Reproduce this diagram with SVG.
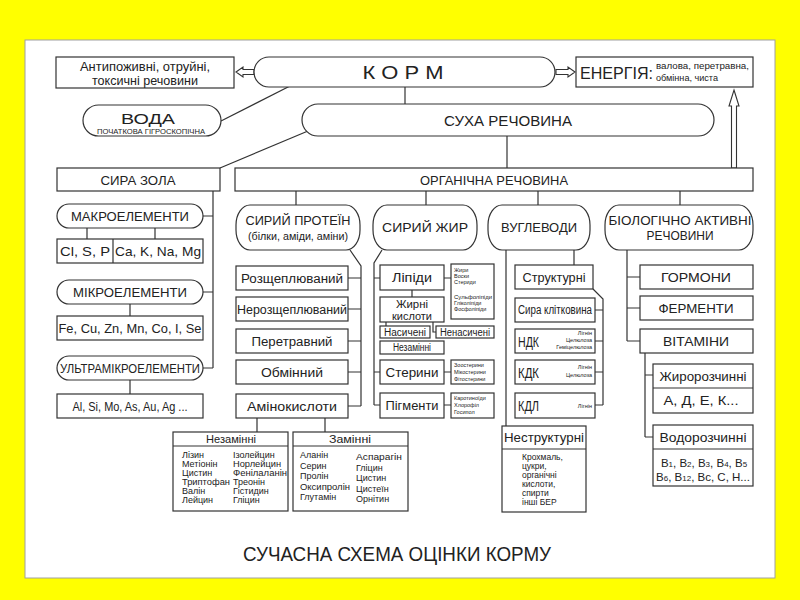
<svg xmlns="http://www.w3.org/2000/svg" width="800" height="600" viewBox="0 0 800 600">
<defs>
<style>
.bx{fill:#fff;stroke:#333;stroke-width:1.2}
.ln{fill:none;stroke:#333;stroke-width:1.2}
.ar{fill:#fff;stroke:#333;stroke-width:1.1}
text{font-family:"Liberation Sans Narrow","Liberation Sans",Arial,sans-serif;fill:#222;font-size:13px}
.c{text-anchor:middle}
.r{text-anchor:end}
.s5{font-size:5.5px}
.s9{font-size:9px}
.s10{font-size:10px}
.sub{font-size:8px}
</style>
</defs>
<rect x="0" y="0" width="800" height="600" fill="#ffff00"/>
<rect x="25" y="40" width="750" height="538" fill="#fff" stroke="#a0a0a0" stroke-width="1"/>

<g id="connectors">
<polygon class="ar" points="236,72 243,67 243,69.5 254,69.5 254,74.5 243,74.5 243,77"/>
<polygon class="ar" points="575,72 568,67 568,69.5 556,69.5 556,74.5 568,74.5 568,77"/>
<polygon class="ar" points="734,90 739,106 736.5,106 736.5,168 731.5,168 731.5,106 729,106"/>
<line class="ln" x1="221" y1="121" x2="290" y2="86"/>
<line class="ln" x1="405" y1="87" x2="405" y2="104"/>
<line class="ln" x1="308" y1="131" x2="220" y2="168"/>
<line class="ln" x1="507" y1="136" x2="507" y2="168"/>
<path class="ln" d="M213,191V368M203,216H213M203,292H213M203,368H213"/>
<path class="ln" d="M87,228V239M155,228V239M130,304V316M130,380V394"/>
<path class="ln" d="M296,191V205M426,191V205M538,191V205M680,191V205"/>
<path class="ln" d="M350,250L361,266V406M348,278H361M348,309H361M348,341H361M348,372H361M348,406H361"/>
<path class="ln" d="M257,418V432M325,418V432"/>
<path class="ln" d="M382,250L374,263V405M374,278H380M374,372H380M374,405H380"/>
<path class="ln" d="M444,278H451M444,372H451M444,405H451M412,290V297M386,322V326M433,322V332H436"/>
<path class="ln" d="M506,250V426M574,250V265"/>
<path class="ln" d="M593,289L603,299V405M595,310H603M595,341H603M595,372H603M595,405H603"/>
<path class="ln" d="M627,250V341M627,277H640M627,308H640M627,341H640"/>
<path class="ln" d="M645,353V437M645,375H653M645,437H653"/>
</g>

<g id="antinutrients">
<rect class="bx" x="56" y="57" width="178" height="31"/>
<text class="c" x="145" y="71" style="font-size:12px" textLength="130" lengthAdjust="spacingAndGlyphs">Антипоживні, отруйні,</text>
<text class="c" x="145" y="84.5" style="font-size:12px" textLength="106" lengthAdjust="spacingAndGlyphs">токсичні речовини</text>
</g>
<g id="korm">
<rect class="bx" x="254" y="57" width="301" height="30" rx="15"/>
<text class="c" x="403" y="79" style="font-size:19px" textLength="81" lengthAdjust="spacingAndGlyphs">К О Р М</text>
</g>
<g id="energy">
<rect class="bx" x="576" y="57" width="177" height="30"/>
<text x="580" y="79" style="font-size:16px" textLength="73" lengthAdjust="spacingAndGlyphs">ЕНЕРГІЯ:</text>
<text x="656" y="69" style="font-size:8.5px" textLength="93" lengthAdjust="spacingAndGlyphs">валова, перетравна,</text>
<text x="656" y="81" style="font-size:8.5px" textLength="62" lengthAdjust="spacingAndGlyphs">обмінна, чиста</text>
</g>
<g id="water">
<rect class="bx" x="83" y="105" width="138" height="31" rx="15.5"/>
<text class="c" x="148" y="124" style="font-size:15px" textLength="54" lengthAdjust="spacingAndGlyphs">ВОДА</text>
<text class="c" x="151" y="133.5" style="font-size:6.5px" textLength="108" lengthAdjust="spacingAndGlyphs">ПОЧАТКОВА  ГІГРОСКОПІЧНА</text>
</g>
<g id="dry-matter">
<rect class="bx" x="302" y="104" width="412" height="32" rx="16"/>
<text class="c" x="508" y="126" style="font-size:15px" textLength="128" lengthAdjust="spacingAndGlyphs">СУХА  РЕЧОВИНА</text>
</g>
<g id="ash">
<rect class="bx" x="57" y="168" width="163" height="23"/>
<text class="c" x="138" y="184.5" textLength="75" lengthAdjust="spacingAndGlyphs">СИРА ЗОЛА</text>
</g>
<g id="organic">
<rect class="bx" x="235" y="168" width="518" height="23"/>
<text class="c" x="494" y="184.5" textLength="148" lengthAdjust="spacingAndGlyphs">ОРГАНІЧНА РЕЧОВИНА</text>
</g>

<g id="macro">
<rect class="bx" x="57" y="204" width="146" height="24" rx="12"/>
<text class="c" x="130" y="220.5" textLength="118" lengthAdjust="spacingAndGlyphs">МАКРОЕЛЕМЕНТИ</text>
</g>
<g id="macro-list">
<rect class="bx" x="57" y="239" width="146" height="24"/>
<line class="ln" x1="113" y1="239" x2="113" y2="263"/>
<text class="c" x="85" y="255.5" textLength="50" lengthAdjust="spacingAndGlyphs">Cl, S, P</text>
<text class="c" x="158" y="255.5" textLength="86" lengthAdjust="spacingAndGlyphs">Ca, K, Na, Mg</text>
</g>
<g id="micro">
<rect class="bx" x="57" y="280" width="146" height="24" rx="12"/>
<text class="c" x="130" y="296.5" textLength="114" lengthAdjust="spacingAndGlyphs">МІКРОЕЛЕМЕНТИ</text>
</g>
<g id="micro-list">
<rect class="bx" x="57" y="316" width="146" height="24"/>
<text class="c" x="130" y="332.5" textLength="143" lengthAdjust="spacingAndGlyphs">Fe, Cu, Zn, Mn, Co, I, Se</text>
</g>
<g id="ultra">
<rect class="bx" x="57" y="356" width="146" height="24" rx="12"/>
<text class="c" x="130" y="372.5" style="font-size:12px" textLength="140" lengthAdjust="spacingAndGlyphs">УЛЬТРАМІКРОЕЛЕМЕНТИ</text>
</g>
<g id="ultra-list">
<rect class="bx" x="57" y="394" width="146" height="24"/>
<text class="c" x="130" y="410.5" textLength="115" lengthAdjust="spacingAndGlyphs">Al, Si, Mo, As, Au, Ag ...</text>
</g>

<g id="protein">
<rect class="bx" x="236" y="205" width="124" height="45" rx="14" ry="20"/>
<text class="c" x="298" y="225" textLength="105" lengthAdjust="spacingAndGlyphs">СИРИЙ ПРОТЕЇН</text>
<text class="c" x="298" y="240" style="font-size:10.5px" textLength="100" lengthAdjust="spacingAndGlyphs">(білки, аміди, аміни)</text>
</g>
<g id="p1"><rect class="bx" x="236" y="266" width="112" height="24"/><text class="c" x="292" y="282.5" style="font-size:12.5px" textLength="102" lengthAdjust="spacingAndGlyphs">Розщеплюваний</text></g>
<g id="p2"><rect class="bx" x="236" y="297" width="112" height="24"/><text class="c" x="292" y="313.5" style="font-size:12.5px" textLength="110" lengthAdjust="spacingAndGlyphs">Нерозщеплюваний</text></g>
<g id="p3"><rect class="bx" x="236" y="329" width="112" height="24"/><text class="c" x="292" y="345.5" style="font-size:12.5px" textLength="81" lengthAdjust="spacingAndGlyphs">Перетравний</text></g>
<g id="p4"><rect class="bx" x="236" y="360" width="112" height="24"/><text class="c" x="292" y="376.5" style="font-size:12.5px" textLength="62" lengthAdjust="spacingAndGlyphs">Обмінний</text></g>
<g id="p5"><rect class="bx" x="236" y="394" width="112" height="24"/><text class="c" x="292" y="410.5" style="font-size:12.5px" textLength="90" lengthAdjust="spacingAndGlyphs">Амінокислоти</text></g>

<g id="essential">
<rect class="bx" x="173" y="432" width="115" height="79"/>
<line class="ln" x1="173" y1="446" x2="288" y2="446"/>
<text class="c" x="231" y="443" style="font-size:11px" textLength="50" lengthAdjust="spacingAndGlyphs">Незамінні</text>
<text class="s9" x="182" y="458">Лізин</text>
<text class="s9" x="182" y="467">Метіонін</text>
<text class="s9" x="182" y="476">Цистин</text>
<text class="s9" x="182" y="485" textLength="48" lengthAdjust="spacingAndGlyphs">Триптофан</text>
<text class="s9" x="182" y="494">Валін</text>
<text class="s9" x="182" y="503">Лейцин</text>
<text class="s9" x="233" y="458">Ізолейцин</text>
<text class="s9" x="233" y="467" textLength="48" lengthAdjust="spacingAndGlyphs">Норлейцин</text>
<text class="s9" x="233" y="476" textLength="54" lengthAdjust="spacingAndGlyphs">Фенілаланін</text>
<text class="s9" x="233" y="485">Треонін</text>
<text class="s9" x="233" y="494">Гістидин</text>
<text class="s9" x="233" y="503">Гліцин</text>
</g>
<g id="nonessential">
<rect class="bx" x="293" y="432" width="115" height="79"/>
<line class="ln" x1="293" y1="446" x2="408" y2="446"/>
<text class="c" x="350" y="443" style="font-size:11px" textLength="42" lengthAdjust="spacingAndGlyphs">Замінні</text>
<text class="s9" x="300" y="458">Аланін</text>
<text class="s9" x="300" y="468.5">Серин</text>
<text class="s9" x="300" y="479">Пролін</text>
<text class="s9" x="300" y="489.5" textLength="50" lengthAdjust="spacingAndGlyphs">Оксипролін</text>
<text class="s9" x="300" y="500">Глутамін</text>
<text class="s9" x="356" y="460" textLength="46" lengthAdjust="spacingAndGlyphs">Аспарагін</text>
<text class="s9" x="356" y="470.5">Гліцин</text>
<text class="s9" x="356" y="481">Цистин</text>
<text class="s9" x="356" y="491.5">Цистеїн</text>
<text class="s9" x="356" y="502">Орнітин</text>
</g>

<g id="fat">
<rect class="bx" x="373" y="205" width="104" height="45" rx="14" ry="20"/>
<text class="c" x="425" y="232" textLength="86" lengthAdjust="spacingAndGlyphs">СИРИЙ ЖИР</text>
</g>
<g id="lipids"><rect class="bx" x="380" y="265" width="64" height="25"/><text class="c" x="412" y="282" textLength="40" lengthAdjust="spacingAndGlyphs">Ліпіди</text></g>
<g id="lipids-list">
<rect class="bx" x="451" y="264" width="43" height="55"/>
<text class="s5" x="454" y="272">Жири</text>
<text class="s5" x="454" y="278">Воски</text>
<text class="s5" x="454" y="284">Стериди</text>
<text class="s5" x="454" y="299" textLength="38" lengthAdjust="spacingAndGlyphs">Сульфоліпіди</text>
<text class="s5" x="454" y="305">Гліколіпіди</text>
<text class="s5" x="454" y="311">Фосфоліпіди</text>
</g>
<g id="fatty-acids"><rect class="bx" x="380" y="297" width="64" height="25"/>
<text class="c" x="412" y="307.5" style="font-size:11px" textLength="32" lengthAdjust="spacingAndGlyphs">Жирні</text>
<text class="c" x="412" y="319.5" style="font-size:11px" textLength="40" lengthAdjust="spacingAndGlyphs">кислоти</text></g>
<g id="saturated"><rect class="bx" x="380" y="326" width="50" height="12"/><text class="c s10" x="405" y="335.5" textLength="42" lengthAdjust="spacingAndGlyphs">Насичені</text></g>
<g id="unsaturated"><rect class="bx" x="436" y="326" width="58" height="12"/><text class="c s10" x="465" y="335.5" textLength="50" lengthAdjust="spacingAndGlyphs">Ненасичені</text></g>
<g id="fat-essential"><rect class="bx" x="380" y="341" width="64" height="13"/><text class="c s10" x="412" y="351" textLength="38" lengthAdjust="spacingAndGlyphs">Незамінні</text></g>
<g id="sterols"><rect class="bx" x="380" y="360" width="64" height="24"/><text class="c" x="412" y="377" textLength="53" lengthAdjust="spacingAndGlyphs">Стерини</text></g>
<g id="sterols-list"><rect class="bx" x="451" y="360" width="43" height="24"/>
<text class="s5" x="454" y="367">Зоостерини</text>
<text class="s5" x="454" y="374">Мікостерини</text>
<text class="s5" x="454" y="381">Фітостерини</text></g>
<g id="pigments"><rect class="bx" x="380" y="393" width="64" height="25"/><text class="c" x="412" y="410" textLength="53" lengthAdjust="spacingAndGlyphs">Пігменти</text></g>
<g id="pigments-list"><rect class="bx" x="451" y="393" width="43" height="25"/>
<text class="s5" x="454" y="400">Каротиноїди</text>
<text class="s5" x="454" y="407">Хлорофіл</text>
<text class="s5" x="454" y="414">Госипол</text></g>

<g id="carbs">
<rect class="bx" x="488" y="205" width="102" height="45" rx="14" ry="20"/>
<text class="c" x="539" y="232" textLength="76" lengthAdjust="spacingAndGlyphs">ВУГЛЕВОДИ</text>
</g>
<g id="structural"><rect class="bx" x="515" y="265" width="78" height="24"/><text class="c" x="554" y="281.5" textLength="63" lengthAdjust="spacingAndGlyphs">Структурні</text></g>
<g id="fibre"><rect class="bx" x="515" y="298" width="80" height="24"/><text class="c" x="555" y="314" style="font-size:12px" textLength="74" lengthAdjust="spacingAndGlyphs">Сира клітковина</text></g>
<g id="ndf"><rect class="bx" x="515" y="329" width="80" height="24"/>
<text x="518" y="346.5" style="font-size:14px" textLength="21" lengthAdjust="spacingAndGlyphs">НДК</text>
<text class="s5 r" x="592" y="335">Лігнін</text>
<text class="s5 r" x="592" y="342">Целюлоза</text>
<text class="s5 r" x="592" y="349">Геміцелюлоза</text></g>
<g id="adf"><rect class="bx" x="515" y="360" width="80" height="24"/>
<text x="518" y="377.5" style="font-size:14px" textLength="21" lengthAdjust="spacingAndGlyphs">КДК</text>
<text class="s5 r" x="592" y="369">Лігнін</text>
<text class="s5 r" x="592" y="377">Целюлоза</text></g>
<g id="adl"><rect class="bx" x="515" y="393" width="80" height="25"/>
<text x="518" y="410.5" style="font-size:14px" textLength="21" lengthAdjust="spacingAndGlyphs">КДЛ</text>
<text class="s5 r" x="592" y="408">Лігнін</text></g>
<g id="nonstructural">
<rect class="bx" x="502" y="426" width="84" height="86"/>
<line class="ln" x1="502" y1="449" x2="586" y2="449"/>
<text class="c" x="544" y="442" textLength="80" lengthAdjust="spacingAndGlyphs">Неструктурні</text>
<text class="s9" x="522" y="460" style="font-size:8.5px">Крохмаль,</text>
<text class="s9" x="522" y="469" style="font-size:8.5px">цукри,</text>
<text class="s9" x="522" y="478" style="font-size:8.5px">органічні</text>
<text class="s9" x="522" y="487" style="font-size:8.5px">кислоти,</text>
<text class="s9" x="522" y="496" style="font-size:8.5px">спирти</text>
<text class="s9" x="522" y="505" style="font-size:8.5px">інші БЕР</text>
</g>

<g id="bioactive">
<rect class="bx" x="605" y="205" width="148" height="45" rx="14" ry="20"/>
<text class="c" x="680" y="225" textLength="143" lengthAdjust="spacingAndGlyphs">БІОЛОГІЧНО АКТИВНІ</text>
<text class="c" x="680" y="240" textLength="67" lengthAdjust="spacingAndGlyphs">РЕЧОВИНИ</text>
</g>
<g id="hormones"><rect class="bx" x="640" y="265" width="113" height="24"/><text class="c" x="696" y="281.5" textLength="70" lengthAdjust="spacingAndGlyphs">ГОРМОНИ</text></g>
<g id="enzymes"><rect class="bx" x="640" y="296" width="113" height="24"/><text class="c" x="696" y="312.5" textLength="75" lengthAdjust="spacingAndGlyphs">ФЕРМЕНТИ</text></g>
<g id="vitamins"><rect class="bx" x="640" y="329" width="113" height="24"/><text class="c" x="696" y="345.5" textLength="66" lengthAdjust="spacingAndGlyphs">ВІТАМІНИ</text></g>
<g id="fat-soluble">
<rect class="bx" x="653" y="364" width="100" height="49"/>
<line class="ln" x1="653" y1="388" x2="753" y2="388"/>
<text class="c" x="703" y="380.5" textLength="87" lengthAdjust="spacingAndGlyphs">Жиророзчинні</text>
<text class="c" x="701" y="405" textLength="75" lengthAdjust="spacingAndGlyphs">А, Д, Е, К...</text>
</g>
<g id="water-soluble">
<rect class="bx" x="653" y="425" width="100" height="61"/>
<line class="ln" x1="653" y1="449" x2="753" y2="449"/>
<text class="c" x="703" y="441.5" textLength="87" lengthAdjust="spacingAndGlyphs">Водорозчинні</text>
<text class="c" x="704" y="466.5" style="font-size:11.5px">В<tspan class="sub">1</tspan>, В<tspan class="sub">2</tspan>, В<tspan class="sub">3</tspan>, В<tspan class="sub">4</tspan>, В<tspan class="sub">5</tspan></text>
<text class="c" x="703" y="481" style="font-size:11.5px">В<tspan class="sub">6</tspan>, В<tspan class="sub">12</tspan>, Вс, С, Н...</text>
</g>

<text class="c" x="397" y="561" style="font-size:21px" textLength="308" lengthAdjust="spacingAndGlyphs">СУЧАСНА СХЕМА ОЦІНКИ КОРМУ</text>
</svg>
